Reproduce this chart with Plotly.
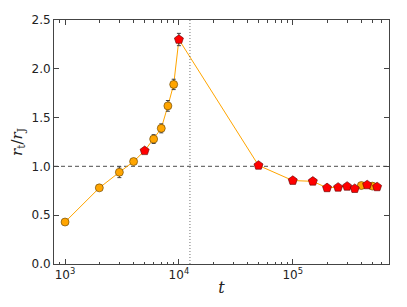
import plotly.graph_objects as go

t = [1000, 2000, 3000, 4000, 5000, 6000, 7000, 8000, 9000, 10000,
     50000, 100000, 150000, 200000, 250000, 300000, 350000, 400000, 450000, 500000, 550000]
r = [0.43, 0.78, 0.94, 1.05, 1.16, 1.28, 1.39, 1.62, 1.84, 2.30,
     1.01, 0.855, 0.847, 0.78, 0.785, 0.795, 0.772, 0.804, 0.81, 0.798, 0.79]
err = [0.01, 0.01, 0.055, 0.015, 0.02, 0.045, 0.046, 0.055, 0.053, 0.063,
       0.01, 0.01, 0.01, 0.01, 0.01, 0.01, 0.01, 0.01, 0.01, 0.01, 0.01]
kind = ["o", "o", "o", "o", "r", "o", "o", "o", "o", "r",
        "r", "r", "r", "r", "r", "r", "r", "o", "r", "o", "r"]
t_mark = 12500
y_ref = 1.0
ytick_vals = [0.0, 0.5, 1.0, 1.5, 2.0, 2.5]
xtick_vals = [1e3, 1e4, 1e5]
xtick_text = ["10<sup>3</sup>", "10<sup>4</sup>", "10<sup>5</sup>"]
xminor_vals = [m * d for d in (100, 1000, 10000, 100000) for m in range(2, 10)
               if 800 <= m * d <= 700000]

xr = [2.903, 5.845]

fig = go.Figure()
fig.add_trace(go.Scatter(x=t, y=r, mode="lines", line=dict(color="#FFA500", width=1),
                         showlegend=False, hoverinfo="skip"))

for k, col, sym, sz in [("o", "#FFA500", "circle", 8), ("r", "#FF0000", "pentagon", 9.5)]:
    xs = [a for a, kk in zip(t, kind) if kk == k]
    ys = [a for a, kk in zip(r, kind) if kk == k]
    es = [a for a, kk in zip(err, kind) if kk == k]
    fig.add_trace(go.Scatter(
        x=xs, y=ys, mode="markers",
        marker=dict(color=col, symbol=sym, size=sz,
                    line=dict(color="#5a3a00" if k == "o" else "#5a0000", width=0.6)),
        error_y=dict(type="data", array=es, visible=True, color="#444444", thickness=1, width=2),
        showlegend=False))

# invisible trace to hold the minor-tick axis
fig.add_trace(go.Scatter(x=[t[0]], y=[r[0]], xaxis="x2", mode="markers",
                         marker=dict(opacity=0), showlegend=False, hoverinfo="skip"))

fig.add_shape(type="line", xref="paper", x0=0, x1=1, yref="y", y0=y_ref, y1=y_ref,
              line=dict(color="#707070", width=1.2, dash="4px,3px"), layer="below")
fig.add_shape(type="line", xref="x", x0=t_mark, x1=t_mark, yref="paper", y0=0, y1=1,
              line=dict(color="#333333", width=0.7, dash="1px,2px"))

fig.update_layout(
    width=399, height=299,
    margin=dict(l=44, r=18, t=5, b=43),
    paper_bgcolor="white", plot_bgcolor="white",
    font=dict(family="DejaVu Sans", size=12, color="#222222"),
    xaxis=dict(type="log", range=xr, tickvals=xtick_vals, ticktext=xtick_text,
               ticks="inside", ticklen=5, tickcolor="#444", mirror="ticks", showline=True,
               linecolor="#444", linewidth=1, showgrid=False, zeroline=False,
               ticklabeloverflow="allow",
               title=dict(text="<i>t</i>", font=dict(family="DejaVu Serif", size=16), standoff=0),
               tickfont=dict(size=12)),
    xaxis2=dict(type="log", range=xr, overlaying="x", side="bottom", tickvals=xminor_vals,
                showticklabels=False, ticks="inside", ticklen=2.5, tickcolor="#444",
                mirror="ticks", showline=False, showgrid=False, zeroline=False),
    yaxis=dict(range=[0, 2.5], tickvals=ytick_vals, tickformat=".1f",
               ticks="inside", ticklen=5, tickcolor="#444", mirror="ticks", showline=True,
               linecolor="#444", linewidth=1, showgrid=False, zeroline=False,
               ticklabeloverflow="allow",
               title=dict(text="<i>r</i><sub>t</sub>/<i>r</i><sub>J</sub>",
                          font=dict(family="DejaVu Serif", size=15), standoff=8)),
)
fig.write_html("out.html")
